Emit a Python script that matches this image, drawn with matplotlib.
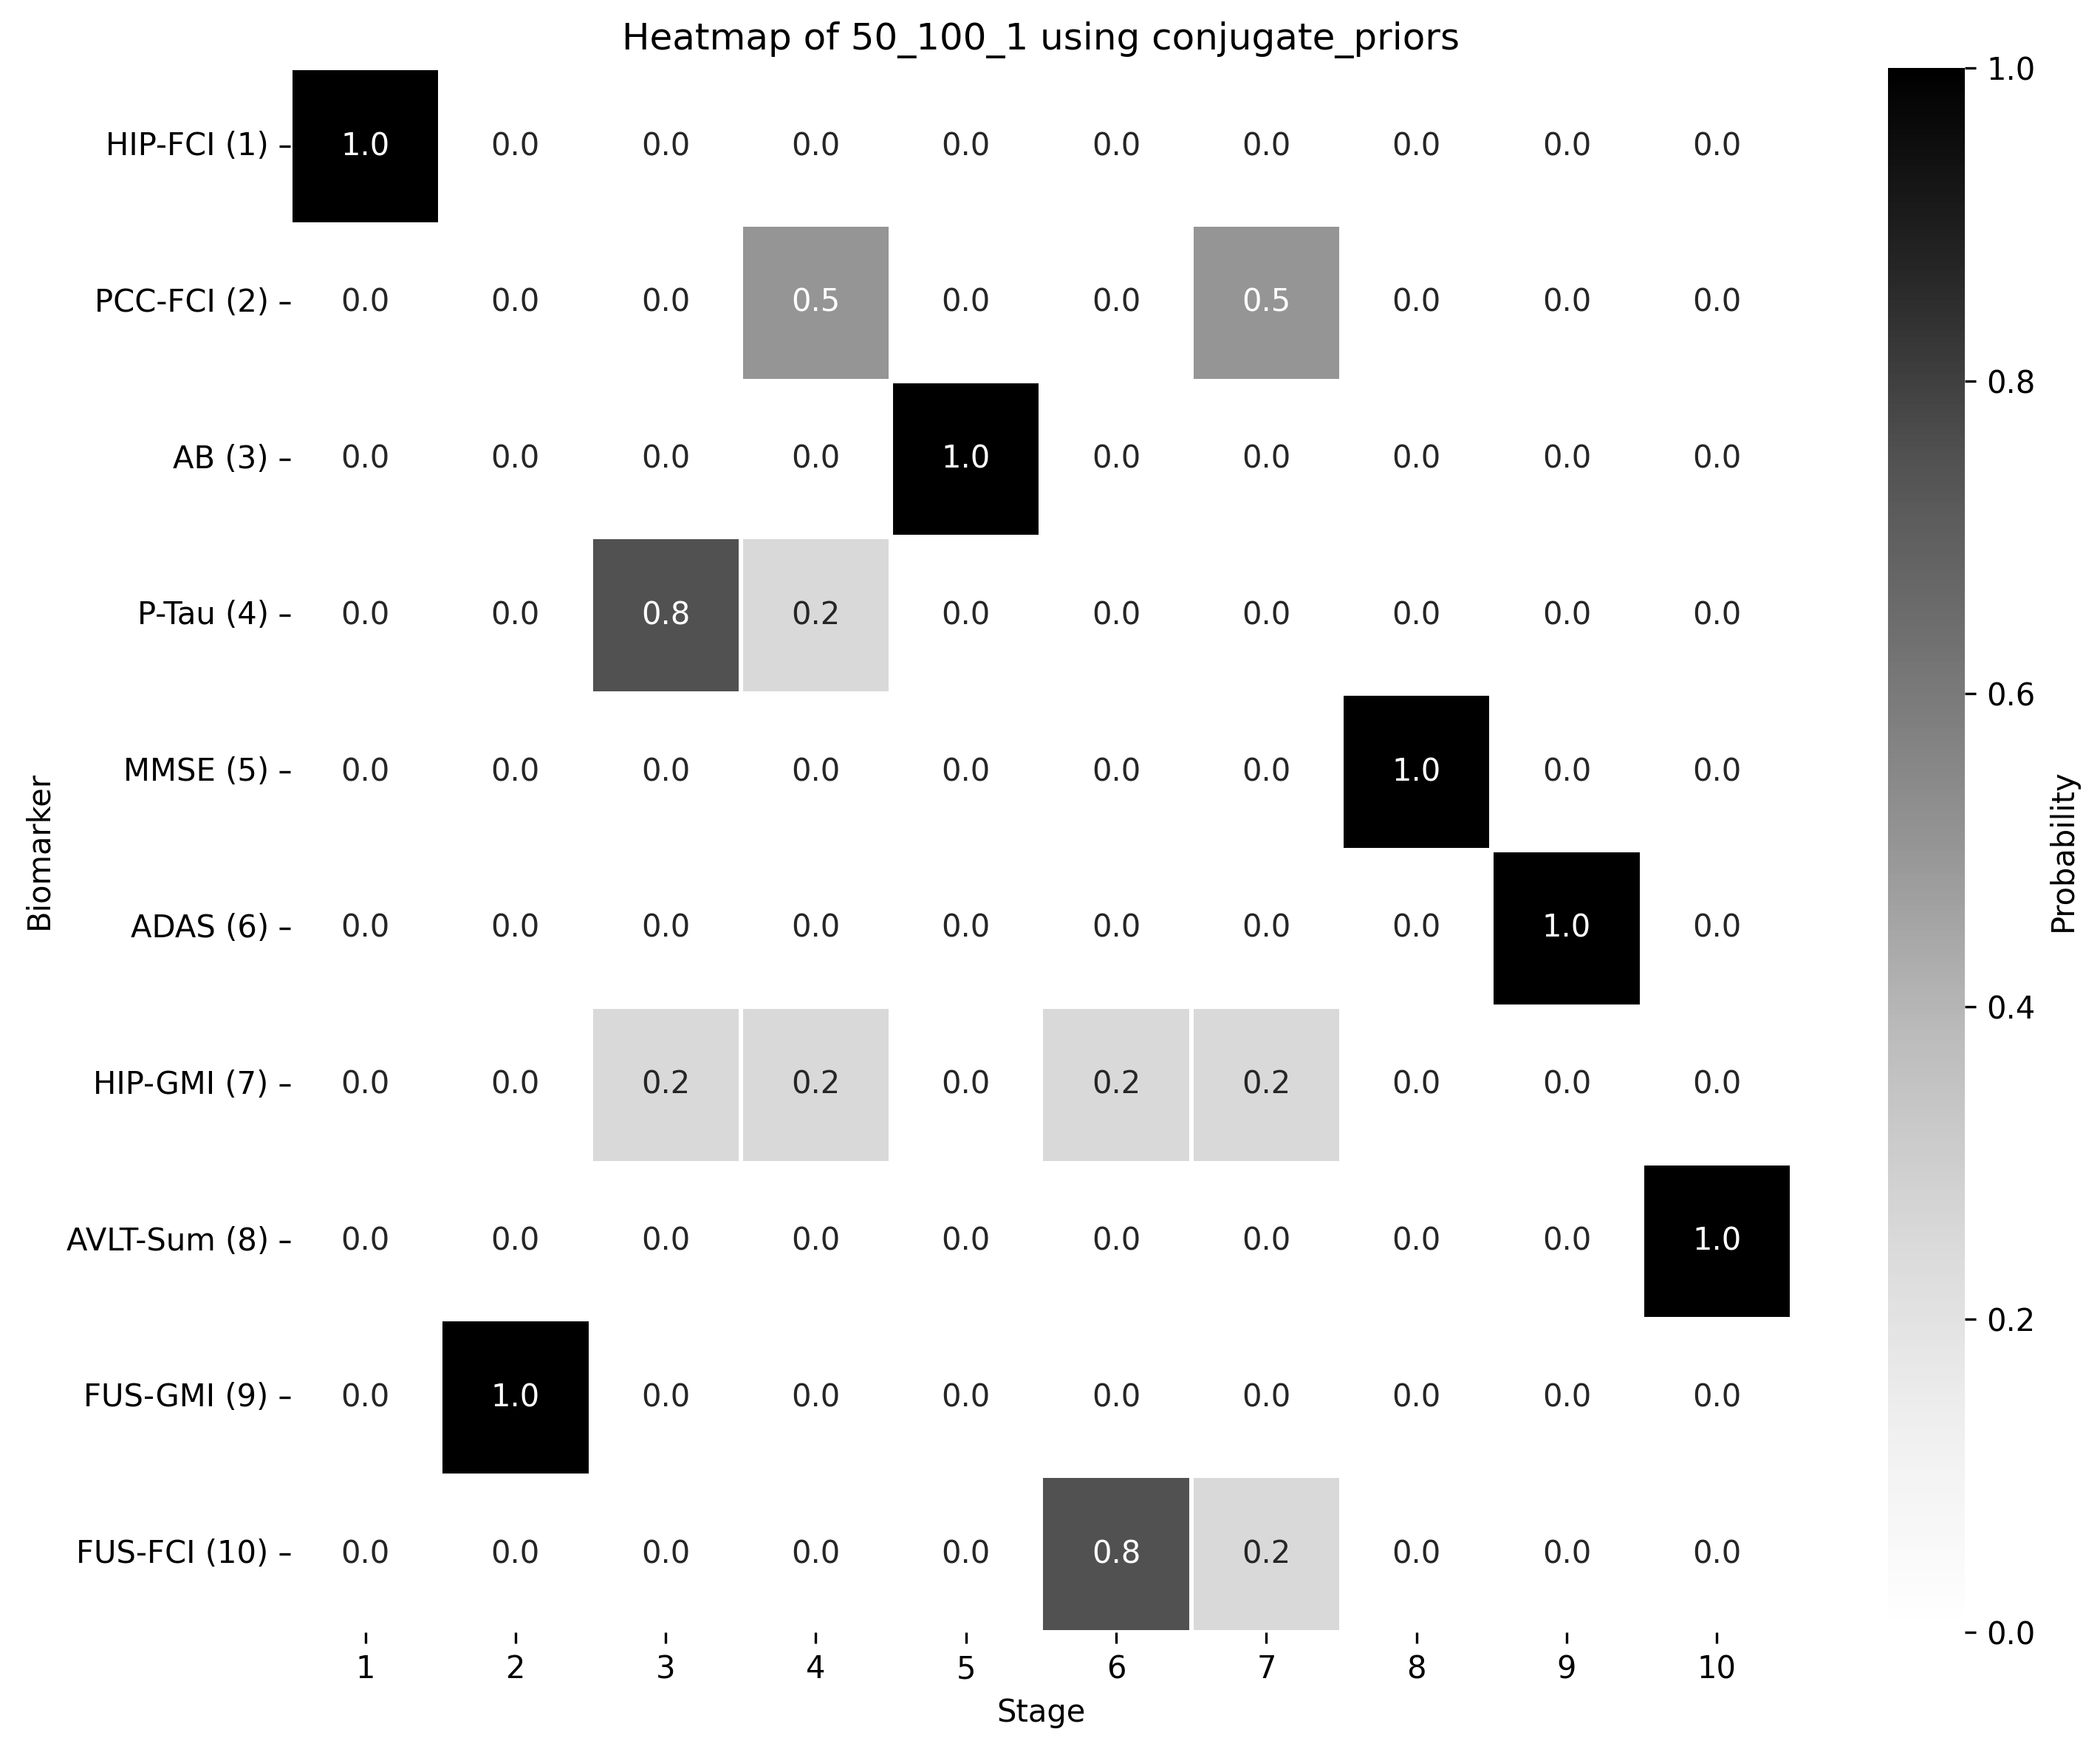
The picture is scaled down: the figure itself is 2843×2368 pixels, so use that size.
import numpy as np
import seaborn as sns
from matplotlib import pyplot as plt

biomarkers = ["HIP-FCI (1)", "PCC-FCI (2)", "AB (3)", "P-Tau (4)", "MMSE (5)",
              "ADAS (6)", "HIP-GMI (7)", "AVLT-Sum (8)", "FUS-GMI (9)", "FUS-FCI (10)"]
stages = [1, 2, 3, 4, 5, 6, 7, 8, 9, 10]

# probability of each biomarker at each stage
probs = np.array([
    [1.0, 0.0, 0.0, 0.0, 0.0, 0.0, 0.0, 0.0, 0.0, 0.0],
    [0.0, 0.0, 0.0, 0.5, 0.0, 0.0, 0.5, 0.0, 0.0, 0.0],
    [0.0, 0.0, 0.0, 0.0, 1.0, 0.0, 0.0, 0.0, 0.0, 0.0],
    [0.0, 0.0, 0.75, 0.25, 0.0, 0.0, 0.0, 0.0, 0.0, 0.0],
    [0.0, 0.0, 0.0, 0.0, 0.0, 0.0, 0.0, 1.0, 0.0, 0.0],
    [0.0, 0.0, 0.0, 0.0, 0.0, 0.0, 0.0, 0.0, 1.0, 0.0],
    [0.0, 0.0, 0.25, 0.25, 0.0, 0.25, 0.25, 0.0, 0.0, 0.0],
    [0.0, 0.0, 0.0, 0.0, 0.0, 0.0, 0.0, 0.0, 0.0, 1.0],
    [0.0, 1.0, 0.0, 0.0, 0.0, 0.0, 0.0, 0.0, 0.0, 0.0],
    [0.0, 0.0, 0.0, 0.0, 0.0, 0.75, 0.25, 0.0, 0.0, 0.0],
])

fig = plt.figure(figsize=(2843 / 300, 2368 / 300), dpi=300)
ax = fig.add_axes([0.1382, 0.0667, 0.8533 - 0.1382, 0.9611 - 0.0667])
cax = fig.add_axes([0.899, 0.0667, 0.0366, 0.9611 - 0.0667])

sns.heatmap(probs, ax=ax, cbar_ax=cax, cmap="Greys", vmin=0, vmax=1,
            annot=True, fmt=".1f", linewidths=1, linecolor="white",
            xticklabels=stages, yticklabels=biomarkers,
            cbar_kws={"label": "Probability"})
ax.set_yticklabels(biomarkers, rotation=0)
ax.set_xlabel("Stage")
ax.set_ylabel("Biomarker")
ax.set_title("Heatmap of 50_100_1 using conjugate_priors")

fig.savefig("out.png", dpi=300)
